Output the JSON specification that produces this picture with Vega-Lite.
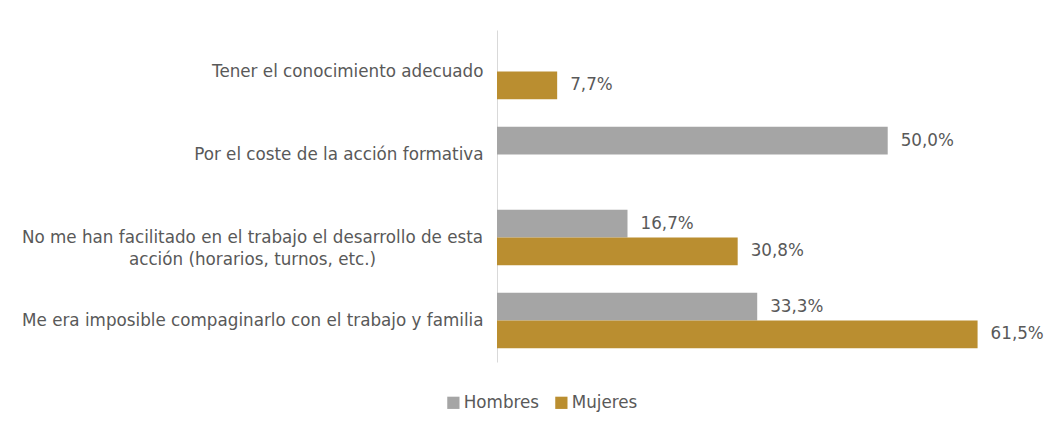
{
  "$schema": "https://vega.github.io/schema/vega-lite/v6.json",
  "autosize": {"type": "none"},
  "width": 547,
  "height": 332,
  "padding": {"left": 497, "top": 30, "right": 15, "bottom": 65},
  "background": "white",
  "config": {
    "view": {"stroke": null},
    "font": "DejaVu Sans",
    "locale": {"number": {"decimal": ",", "thousands": ".", "grouping": [3], "currency": ["", " €"]}}
  },
  "data": {
    "values": [
      {"motivo": "Tener el conocimiento adecuado", "sexo": "Mujeres", "valor": 0.077},
      {"motivo": "Por el coste de la acción formativa", "sexo": "Hombres", "valor": 0.5},
      {"motivo": "No me han facilitado en el trabajo el desarrollo de esta acción (horarios, turnos, etc.)", "sexo": "Hombres", "valor": 0.167},
      {"motivo": "No me han facilitado en el trabajo el desarrollo de esta acción (horarios, turnos, etc.)", "sexo": "Mujeres", "valor": 0.308},
      {"motivo": "Me era imposible compaginarlo con el trabajo y familia", "sexo": "Hombres", "valor": 0.333},
      {"motivo": "Me era imposible compaginarlo con el trabajo y familia", "sexo": "Mujeres", "valor": 0.615}
    ]
  },
  "encoding": {
    "y": {
      "field": "motivo",
      "type": "nominal",
      "sort": ["Tener el conocimiento adecuado", "Por el coste de la acción formativa", "No me han facilitado en el trabajo el desarrollo de esta acción (horarios, turnos, etc.)", "Me era imposible compaginarlo con el trabajo y familia"],
      "scale": {"paddingInner": 0.33, "paddingOuter": 0.165},
      "title": null,
      "axis": {
        "domainColor": "#D9D9D9",
        "domainWidth": 1,
        "ticks": false,
        "labelFont": "DejaVu Sans",
        "labelFontSize": 16.75,
        "labelColor": "#595959",
        "labelAlign": {"condition": {"test": "indexof(datum.value, 'No me han') == 0", "value": "center"}, "value": "right"},
        "labelPadding": {"condition": {"test": "indexof(datum.value, 'No me han') == 0", "value": 245}, "value": 14},
        "labelLimit": 600,
        "labelLineHeight": 22,
        "labelExpr": "indexof(datum.value, 'No me han') == 0 ? ['No me han facilitado en el trabajo el desarrollo de esta', 'acción (horarios, turnos, etc.)'] : datum.value"
      }
    },
    "yOffset": {"field": "sexo", "type": "nominal", "sort": ["Hombres", "Mujeres"]},
    "x": {
      "field": "valor",
      "type": "quantitative",
      "scale": {"domain": [0, 0.7]},
      "axis": null
    }
  },
  "layer": [
    {
      "mark": {"type": "bar"},
      "encoding": {
        "color": {
          "field": "sexo",
          "type": "nominal",
          "sort": ["Hombres", "Mujeres"],
          "scale": {"domain": ["Hombres", "Mujeres"], "range": ["#A5A5A5", "#BA8E30"]},
          "legend": {
            "title": null,
            "orient": "none",
            "legendX": -52,
            "legendY": 364,
            "direction": "horizontal",
            "symbolType": "square",
            "symbolSize": 150,
            "labelFont": "DejaVu Sans",
            "labelFontSize": 16.75,
            "labelColor": "#595959",
            "columnPadding": 13,
            "labelOffset": 2
          }
        }
      }
    },
    {
      "mark": {"type": "text", "align": "left", "baseline": "middle", "dx": 13, "font": "DejaVu Sans", "fontSize": 16.75, "color": "#595959"},
      "encoding": {
        "text": {"field": "valor", "type": "quantitative", "format": ".1%"}
      }
    }
  ]
}
